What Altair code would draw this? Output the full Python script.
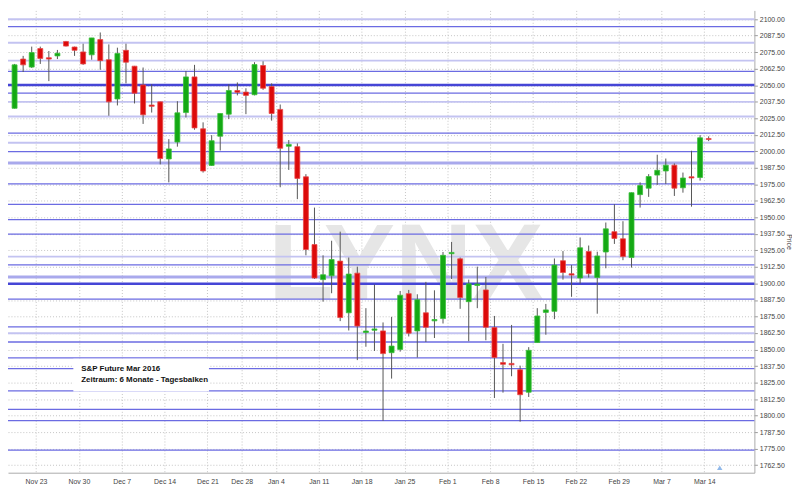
import altair as alt
import pandas as pd

# ---- daily candles (S&P future Mar 2016), Nov 18 2015 .. Mar 14 2016 ----
opens = [2032.5, 2069.8, 2063.7, 2077.7, 2070.8, 2072.2, 2083.1, 2078.9, 2075.2, 2073.0,
         2084.5, 2069.3, 2039.6, 2076.4, 2064.4, 2050.2, 2035.0, 2037.4, 1994.2, 2007.0,
         2029.3, 2056.3, 2017.0, 1989.3, 2011.4, 2028.1, 2046.0, 2044.8, 2042.8, 2064.9,
         2049.0, 2031.7, 2003.8, 2003.5, 1980.7, 1929.4, 1902.9, 1905.8, 1916.9, 1877.8,
         1907.8, 1862.9, 1864.6, 1864.1, 1847.6, 1850.1, 1892.3, 1864.1, 1877.8, 1871.7,
         1873.4, 1922.5, 1918.6, 1886.2, 1898.5, 1895.1, 1866.6, 1840.1, 1839.5, 1834.7,
         1817.7, 1855.3, 1878.1, 1878.9, 1917.2, 1907.3, 1904.1, 1924.2, 1904.5, 1923.8,
         1939.2, 1933.8, 1919.6, 1967.2, 1972.1, 1982.0, 1985.1, 1989.5, 1972.4, 1980.7,
         1980.2, 2009.6]
highs = [2066.1, 2072.2, 2079.2, 2079.2, 2075.9, 2076.7, 2083.5, 2079.2, 2081.4, 2085.8,
         2089.9, 2080.9, 2078.4, 2081.4, 2064.6, 2063.4, 2050.7, 2037.6, 2009.2, 2037.9,
         2060.8, 2065.4, 2021.9, 2012.2, 2028.6, 2050.7, 2052.1, 2047.7, 2067.4, 2068.1,
         2051.4, 2035.4, 2008.5, 2006.0, 1982.7, 1957.4, 1921.3, 1932.3, 1939.2, 1919.6,
         1912.7, 1881.3, 1899.2, 1870.5, 1874.7, 1894.3, 1895.1, 1891.8, 1901.2, 1894.8,
         1923.8, 1931.4, 1919.6, 1902.9, 1912.7, 1904.9, 1875.4, 1854.3, 1868.6, 1837.8,
         1851.8, 1881.3, 1884.5, 1918.9, 1924.5, 1913.9, 1934.8, 1928.7, 1924.0, 1946.1,
         1959.9, 1947.1, 1968.9, 1976.5, 1982.7, 1997.4, 1994.5, 1990.8, 1983.9, 2000.4,
         2012.2, 2011.3]
lows = [2032.3, 2060.0, 2063.0, 2066.1, 2053.1, 2069.8, 2079.3, 2072.2, 2065.4, 2069.3,
        2061.7, 2026.9, 2034.7, 2051.4, 2036.2, 2020.7, 2029.3, 1990.1, 1976.5, 2003.5,
        2025.6, 2016.3, 1983.9, 1988.9, 2000.6, 2024.4, 2042.3, 2028.1, 2042.3, 2046.5,
        2023.2, 1972.8, 1985.9, 1963.8, 1921.3, 1903.4, 1886.2, 1892.6, 1871.5, 1864.4,
        1842.0, 1852.1, 1848.9, 1796.1, 1828.0, 1848.4, 1859.9, 1844.0, 1855.7, 1858.7,
        1869.7, 1903.4, 1880.8, 1856.3, 1881.3, 1857.0, 1813.3, 1817.4, 1829.8, 1795.4,
        1814.1, 1855.0, 1861.2, 1873.0, 1902.9, 1889.9, 1899.9, 1904.5, 1877.1, 1911.5,
        1929.9, 1917.6, 1912.0, 1957.4, 1965.5, 1974.6, 1975.3, 1966.2, 1968.7, 1958.1,
        1977.8, 2007.7]
closes = [2065.4, 2065.4, 2074.7, 2070.3, 2069.8, 2074.2, 2079.6, 2076.4, 2066.1, 2085.8,
          2068.6, 2037.4, 2074.0, 2067.4, 2044.0, 2027.6, 2034.0, 1994.5, 2001.8, 2029.1,
          2056.3, 2017.7, 1985.1, 2008.0, 2028.6, 2046.0, 2044.6, 2042.3, 2065.6, 2047.7,
          2028.6, 2002.3, 2005.2, 1979.5, 1925.7, 1904.1, 1906.6, 1918.1, 1874.2, 1907.1,
          1867.8, 1864.0, 1865.6, 1846.9, 1852.6, 1891.1, 1862.4, 1887.7, 1866.8, 1872.7,
          1921.3, 1923.5, 1889.4, 1899.7, 1899.5, 1866.8, 1844.0, 1838.8, 1838.4, 1815.8,
          1849.4, 1875.4, 1880.0, 1913.9, 1908.3, 1906.3, 1927.0, 1907.4, 1920.8, 1941.3,
          1934.1, 1920.3, 1968.7, 1974.1, 1980.9, 1985.6, 1989.5, 1972.1, 1979.8, 1979.8,
          2010.2, 2008.9]

# week labels and the trading-day index of each Monday
week_labels = ["Nov 23", "Nov 30", "Dec 7", "Dec 14", "Dec 21", "Dec 28", "Jan 4",
               "Jan 11", "Jan 18", "Jan 25", "Feb 1", "Feb 8", "Feb 15", "Feb 22",
               "Feb 29", "Mar 7", "Mar 14"]
week_start_index = [3, 8, 13, 18, 23, 27, 31, 36, 41, 46, 51, 56, 61, 66, 71, 76, 81]

price_ticks = [1762.5, 1775.0, 1787.5, 1800.0, 1812.5, 1825.0, 1837.5, 1850.0, 1862.5,
               1875.0, 1887.5, 1900.0, 1912.5, 1925.0, 1937.5, 1950.0, 1962.5, 1975.0,
               1987.5, 2000.0, 2012.5, 2025.0, 2037.5, 2050.0, 2062.5, 2075.0, 2087.5,
               2100.0]

# support / resistance levels
levels_light = [2100.0, 2082.1, 2068.6, 2037.4, 2026.3, 2006.4, 1920.3, 1862.4]
levels_light_thick = [1991.2, 1904.8]
levels_mid = [2094.3, 2060.5, 2044.0, 2013.8, 1999.8, 1975.3, 1959.9, 1948.3, 1937.3,
              1914.1, 1888.1, 1867.1, 1855.7, 1843.7, 1835.6, 1818.7, 1804.7, 1796.2,
              1773.8]
levels_strong = [2050.1, 1899.7]

info_lines = ["S&P Future Mar 2016", "Zeitraum: 6 Monate - Tagesbalken"]

# ---------------------------------------------------------------------------
candles = pd.DataFrame({"i": list(range(len(opens))), "open": opens, "high": highs,
                        "low": lows, "close": closes})
candles["dir"] = ["up" if c >= o else "down" for o, c in zip(opens, closes)]

tick_pos = [k - 0.5 for k in week_start_index]
label_expr = "[" + ",".join("'%s'" % s for s in week_labels) + "][indexof([" + \
    ",".join(str(v) for v in tick_pos) + "], datum.value)]"

FONT = "'Liberation Sans Narrow', 'Liberation Sans', sans-serif"

xscale = alt.Scale(domain=[-0.19, 85.76], nice=False, zero=False)
yscale = alt.Scale(domain=[1756.8, 2106.6], nice=False, zero=False)

xaxis = alt.Axis(values=tick_pos, labelExpr=label_expr, title=None, grid=True,
                 gridDash=[1, 2], gridColor="#c4c4c4", gridWidth=1, ticks=False,
                 domain=True, domainColor="#aaaaaa", labelFont=FONT, labelFontSize=7,
                 labelColor="#444444", labelPadding=5, labelFlush=False)
yaxis = alt.Axis(orient="right", values=price_ticks, format=".2f", title="Price",
                 grid=True, gridDash=[1, 2], gridColor="#c4c4c4", gridWidth=1,
                 tickSize=3, tickColor="#999999", domainColor="#aaaaaa",
                 labelFont=FONT, labelFontSize=7, labelColor="#444444", labelPadding=2,
                 titleFont=FONT, titleFontSize=7, titleFontWeight="normal",
                 titleColor="#444444", titlePadding=1)

one = pd.DataFrame({"t": ["LYNX"]})

watermark = alt.Chart(one).mark_text(
    font=FONT, fontSize=108, fontWeight="bold", color="#e6e6e6",
    align="center", baseline="alphabetic"
).encode(x=alt.value(402), y=alt.value(292), text="t:N")


def level_layer(values, color, width, opacity=1.0):
    return alt.Chart(pd.DataFrame({"level": values})).mark_rule(
        color=color, strokeWidth=width, opacity=opacity
    ).encode(y=alt.Y("level:Q", scale=yscale, axis=yaxis))


lv_light = level_layer(levels_light, "#c3c3f1", 2)
lv_light_thick = level_layer(levels_light_thick, "#a9a9ec", 3)
lv_mid = level_layer(levels_mid, "#6b6be2", 1.3)
lv_strong = level_layer(levels_strong, "#4545d6", 2.5)

box = alt.Chart(one).mark_rect(fill="white").encode(
    x=alt.value(66), x2=alt.value(203), y=alt.value(352), y2=alt.value(385))

info = alt.Chart(pd.DataFrame({"line": ["\n".join(info_lines)]})).mark_text(
    align="left", baseline="top", fontSize=8, fontWeight="bold", lineBreak="\n",
    lineHeight=11, font="'Liberation Sans', sans-serif", color="#111111"
).encode(x=alt.value(74), y=alt.value(358), text="line:N")

base = alt.Chart(candles)
wicks = base.mark_rule(color="#555555", strokeWidth=1, clip=True).encode(
    x=alt.X("i:Q", scale=xscale, axis=xaxis),
    y=alt.Y("low:Q", scale=yscale, axis=yaxis),
    y2="high:Q")

bodies = base.mark_bar(size=5, strokeWidth=0.8, clip=True).encode(
    x=alt.X("i:Q", scale=xscale, axis=xaxis),
    y=alt.Y("open:Q", scale=yscale, axis=yaxis),
    y2="close:Q",
    color=alt.Color("dir:N", scale=alt.Scale(domain=["up", "down"],
                                             range=["#14a914", "#dc0a0a"]), legend=None),
    stroke=alt.Stroke("dir:N", scale=alt.Scale(domain=["up", "down"],
                                               range=["#3cc03c", "#e84a4a"]), legend=None))

marker = alt.Chart(one).mark_point(shape="triangle-up", filled=True, size=30,
                                   color="#8fb8ea", opacity=1).encode(
    x=alt.value(719), y=alt.value(462))

chart = alt.layer(
    watermark, lv_light, lv_light_thick, lv_mid, lv_strong, box, info, wicks, bodies, marker
).resolve_scale(color="independent", stroke="independent").properties(
    width=754, height=467,
    autosize=alt.AutoSizeParams(type="none"),
    padding={"left": 0, "top": 0, "right": 38, "bottom": 11},
    background="white"
).configure_view(stroke=None)

chart.save("out.html", embed_options={"renderer": "svg", "actions": False})
